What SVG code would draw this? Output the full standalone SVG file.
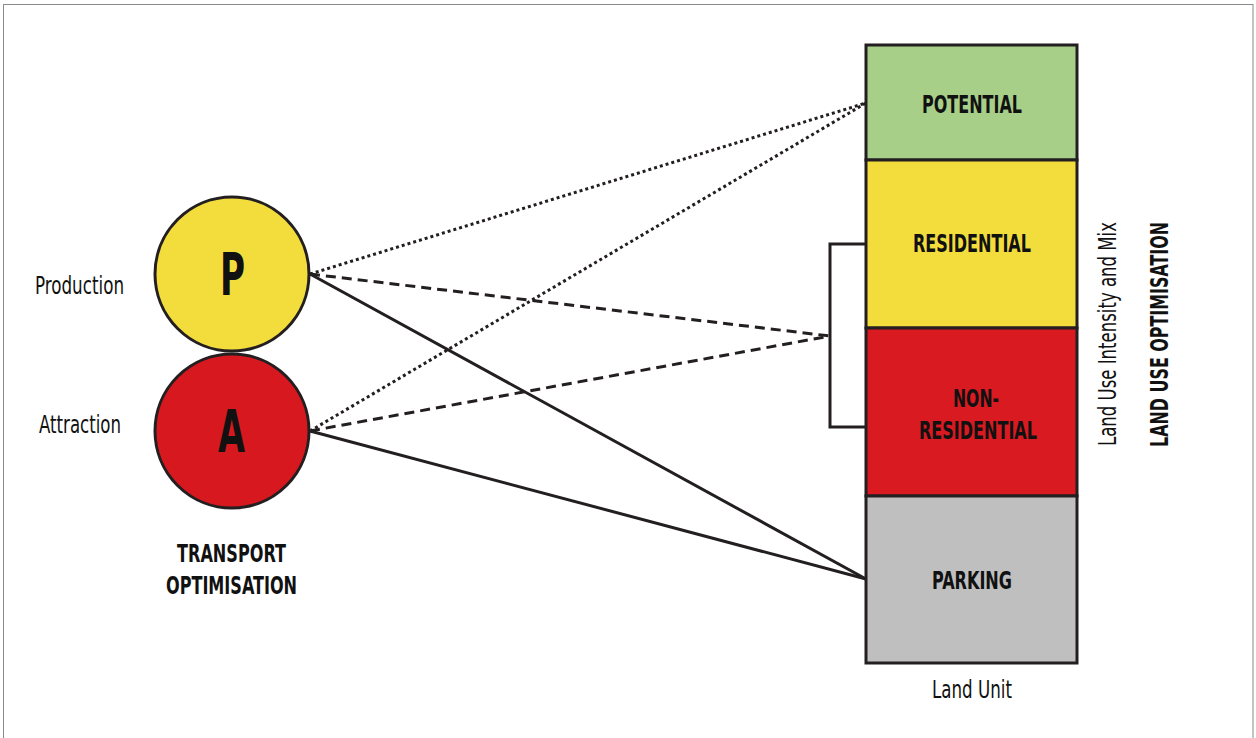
<svg xmlns="http://www.w3.org/2000/svg" width="1256" height="738" viewBox="0 0 1256 738">
<style>
  .t { font-family: "Liberation Sans Narrow", "DejaVu Sans Condensed", "Liberation Sans", sans-serif; fill: #111; }
  .b { font-weight: bold; }
  .lbl { font-size: 24px; }
  .hd { font-size: 25px; }
  .big { font-size: 58px; font-weight: bold; }
  .edge { fill: none; stroke: #231f20; stroke-width: 3; }
  .dot { stroke-dasharray: 3 3; }
  .dash { stroke-dasharray: 10 6; }
  .cell { stroke: #231f20; stroke-width: 3; }
</style>
<rect x="3.5" y="4.5" width="1249.5" height="740" fill="#fff" stroke="#8a8a8a" stroke-width="1"/>

<g id="connectors">
  <line class="edge dot" x1="310" y1="274" x2="866" y2="103"/>
  <line class="edge dot" x1="310" y1="431" x2="866" y2="103"/>
  <line class="edge dash" x1="310" y1="274" x2="830" y2="336"/>
  <line class="edge dash" x1="310" y1="431" x2="830" y2="336"/>
  <line class="edge" x1="310" y1="274" x2="866" y2="579"/>
  <line class="edge" x1="310" y1="431" x2="866" y2="579"/>
  <polyline class="edge" points="866,244 830,244 830,427 866,427"/>
</g>

<g id="node-P">
  <circle cx="232" cy="274" r="77" fill="#f3dd3d" stroke="#231f20" stroke-width="3"/>
  <text class="t big" x="220" y="295" textLength="25" lengthAdjust="spacingAndGlyphs">P</text>
</g>
<g id="node-A">
  <circle cx="232" cy="431" r="77" fill="#d7191f" stroke="#231f20" stroke-width="3"/>
  <text class="t big" x="218" y="452" textLength="27" lengthAdjust="spacingAndGlyphs">A</text>
</g>
<g id="label-production">
  <text class="t lbl" x="35" y="294" textLength="89" lengthAdjust="spacingAndGlyphs">Production</text>
</g>
<g id="label-attraction">
  <text class="t lbl" x="39" y="433" textLength="82" lengthAdjust="spacingAndGlyphs">Attraction</text>
</g>
<g id="label-transport">
  <text class="t hd b" x="177" y="562" textLength="109" lengthAdjust="spacingAndGlyphs">TRANSPORT</text>
  <text class="t hd b" x="166" y="594" textLength="131" lengthAdjust="spacingAndGlyphs">OPTIMISATION</text>
</g>

<g id="cell-potential">
  <rect class="cell" x="866" y="45" width="211" height="115" fill="#a8cf88"/>
  <text class="t hd b" x="922" y="113" textLength="100" lengthAdjust="spacingAndGlyphs">POTENTIAL</text>
</g>
<g id="cell-residential">
  <rect class="cell" x="866" y="160" width="211" height="168" fill="#f3dd3d"/>
  <text class="t hd b" x="913" y="252" textLength="118" lengthAdjust="spacingAndGlyphs">RESIDENTIAL</text>
</g>
<g id="cell-nonresidential">
  <rect class="cell" x="866" y="328" width="211" height="168" fill="#d91a21"/>
  <text class="t hd b" x="953" y="407" textLength="46" lengthAdjust="spacingAndGlyphs">NON-</text>
  <text class="t hd b" x="919" y="439" textLength="118" lengthAdjust="spacingAndGlyphs">RESIDENTIAL</text>
</g>
<g id="cell-parking">
  <rect class="cell" x="866" y="496" width="211" height="167" fill="#bfbfbf"/>
  <text class="t hd b" x="932" y="589" textLength="80" lengthAdjust="spacingAndGlyphs">PARKING</text>
</g>
<g id="label-landunit">
  <text class="t lbl" x="932" y="698" textLength="80" lengthAdjust="spacingAndGlyphs">Land Unit</text>
</g>
<g id="label-intensity">
  <text class="t lbl" transform="translate(1116,446) rotate(-90)" x="0" y="0" textLength="224" lengthAdjust="spacingAndGlyphs">Land Use Intensity and Mix</text>
</g>
<g id="label-landuse">
  <text class="t hd b" transform="translate(1168,447) rotate(-90)" x="0" y="0" textLength="225" lengthAdjust="spacingAndGlyphs">LAND USE OPTIMISATION</text>
</g>
</svg>
